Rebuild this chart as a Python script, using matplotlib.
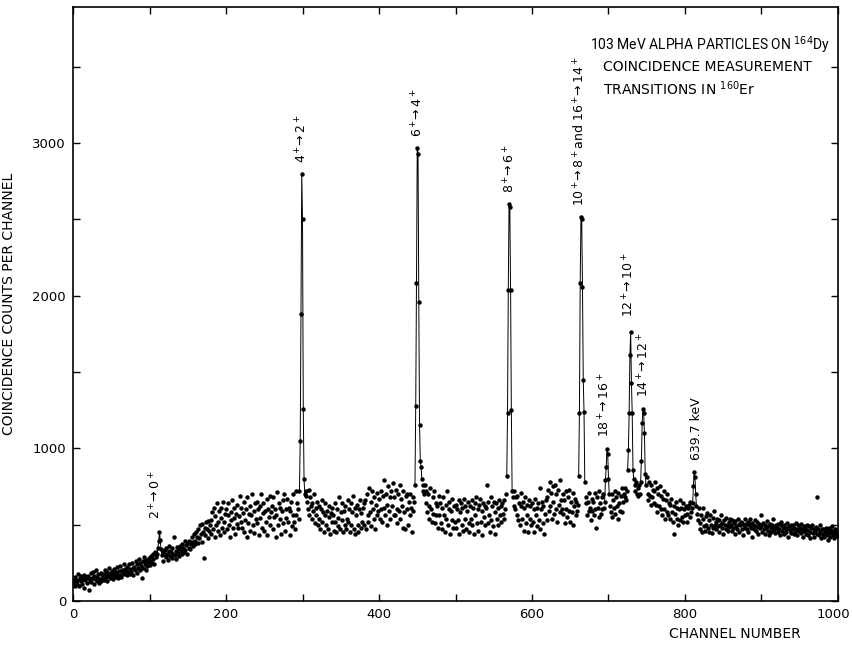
import numpy as np
import matplotlib.pyplot as plt
import matplotlib.transforms as mtransforms

# coincidence counts per channel, channels 0..999 (20 channels per row)
counts = [
    120, 145, 98, 160, 132, 110, 175, 140, 95, 150, 128, 165, 108, 142, 170, 88, 135, 155, 118, 148,
    162, 72, 138, 180, 125, 150, 190, 110, 165, 142, 200, 128, 158, 175, 115, 145, 185, 132, 168, 150,
    178, 140, 205, 160, 188, 132, 172, 215, 150, 182, 165, 198, 145, 176, 210, 158, 190, 168, 225, 152,
    195, 172, 230, 160, 205, 185, 245, 178, 212, 196, 168, 225, 190, 240, 175, 208, 188, 250, 170, 215,
    225, 200, 262, 185, 240, 215, 275, 205, 250, 230, 150, 262, 218, 290, 240, 205, 270, 232, 255, 280,
    262, 238, 295, 250, 310, 272, 240, 320, 285, 300, 305, 350, 390, 455, 400, 340, 300, 330, 265, 310,
    335, 290, 350, 305, 270, 325, 360, 295, 318, 280, 345, 305, 420, 300, 330, 275, 355, 312, 340, 295,
    360, 330, 305, 375, 345, 320, 390, 335, 365, 310, 380, 350, 395, 340, 370, 420, 385, 360, 440, 375,
    395, 450, 420, 380, 470, 410, 495, 440, 385, 505, 455, 280, 480, 430, 515, 470, 410, 525, 460, 495,
    530, 440, 580, 470, 610, 420, 555, 500, 640, 460, 520, 590, 430, 545, 610, 480, 650, 515, 450, 570,
    600, 470, 560, 640, 500, 420, 585, 530, 660, 475, 545, 610, 440, 570, 505, 630, 480, 555, 690, 520,
    610, 480, 575, 455, 650, 530, 600, 420, 680, 510, 570, 625, 460, 560, 700, 495, 590, 445, 640, 535,
    650, 510, 600, 430, 620, 545, 700, 480, 575, 640, 460, 590, 520, 670, 430, 605, 550, 690, 500, 580,
    620, 470, 680, 550, 600, 420, 560, 715, 500, 640, 540, 610, 440, 590, 660, 510, 700, 460, 600, 545,
    670, 520, 610, 430, 590, 650, 490, 560, 700, 520, 470, 720, 560, 640, 600, 540, 720, 1050, 1880, 2800,
    2500, 1260, 800, 700, 690, 720, 650, 600, 730, 560, 680, 620, 540, 640, 590, 700, 510, 610, 560, 650,
    500, 620, 540, 470, 600, 660, 520, 580, 450, 560, 640, 500, 590, 470, 550, 620, 440, 575, 520, 610,
    560, 460, 640, 520, 450, 600, 545, 490, 680, 470, 580, 530, 640, 455, 590, 500, 620, 470, 540, 660,
    520, 600, 450, 640, 500, 585, 690, 470, 610, 440, 560, 630, 500, 455, 600, 660, 480, 575, 520, 610,
    640, 500, 660, 470, 700, 560, 520, 740, 580, 650, 490, 720, 600, 540, 680, 470, 630, 560, 710, 590,
    670, 540, 720, 600, 520, 690, 610, 790, 560, 700, 630, 500, 750, 590, 680, 540, 720, 620, 770, 560,
    680, 560, 730, 600, 510, 700, 590, 760, 540, 670, 620, 480, 720, 580, 470, 690, 600, 700, 500, 650,
    560, 700, 610, 450, 680, 590, 650, 760, 1280, 2080, 2970, 2930, 1960, 1150, 920, 880, 800, 760, 720, 700,
    760, 640, 720, 580, 700, 620, 540, 740, 600, 520, 680, 570, 720, 510, 640, 560, 620, 480, 690, 560,
    640, 510, 610, 470, 680, 560, 450, 630, 540, 720, 500, 600, 650, 440, 590, 530, 670, 480, 620, 520,
    630, 480, 600, 530, 660, 440, 580, 640, 500, 610, 460, 670, 540, 620, 470, 590, 650, 510, 450, 620,
    540, 660, 500, 610, 440, 640, 560, 680, 510, 600, 460, 630, 670, 520, 590, 430, 640, 550, 500, 620,
    610, 760, 510, 650, 560, 450, 680, 530, 620, 490, 650, 580, 440, 640, 540, 610, 500, 660, 560, 620,
    520, 640, 570, 660, 540, 600, 700, 820, 1230, 2040, 2600, 2580, 2040, 1250, 720, 680, 620, 720, 600, 680,
    560, 690, 530, 640, 500, 620, 710, 540, 650, 460, 610, 680, 510, 630, 560, 450, 660, 540, 620, 500,
    640, 520, 600, 450, 670, 560, 610, 490, 640, 530, 740, 470, 600, 650, 510, 620, 440, 570, 660, 530,
    680, 730, 590, 780, 620, 710, 540, 750, 650, 570, 760, 600, 700, 520, 730, 630, 580, 790, 660, 600,
    700, 570, 660, 510, 720, 600, 550, 680, 590, 730, 520, 650, 580, 710, 500, 620, 670, 560, 650, 590,
    630, 820, 1230, 2080, 2515, 2500, 2060, 1450, 1240, 780, 640, 680, 560, 650, 590, 710, 610, 530, 670, 590,
    650, 560, 710, 600, 480, 680, 610, 550, 720, 640, 570, 680, 600, 700, 610, 650, 790, 880, 995, 960,
    800, 700, 620, 580, 700, 550, 660, 610, 720, 570, 680, 620, 540, 710, 640, 590, 690, 580, 740, 650,
    700, 680, 740, 660, 720, 860, 990, 1230, 1610, 1760, 1430, 1230, 860, 800, 760, 720, 780, 700, 740, 690,
    760, 700, 780, 920, 1165, 1257, 1230, 1100, 830, 760, 810, 700, 660, 780, 690, 630, 760, 680, 730, 640,
    720, 780, 630, 740, 580, 700, 620, 750, 600, 690, 560, 670, 720, 600, 540, 660, 580, 700, 560, 640,
    630, 540, 670, 580, 520, 620, 440, 570, 650, 540, 610, 500, 600, 660, 530, 610, 550, 640, 520, 600,
    560, 620, 570, 520, 610, 630, 550, 650, 580, 610, 640, 750, 845, 810, 700, 620, 570, 530, 610, 510,
    470, 560, 450, 540, 610, 490, 460, 555, 500, 575, 480, 530, 455, 565, 500, 445, 545, 480, 590, 495,
    520, 470, 540, 490, 455, 530, 500, 560, 480, 510, 440, 530, 495, 470, 545, 500, 460, 520, 485, 540,
    500, 460, 530, 480, 510, 440, 525, 490, 470, 540, 505, 455, 495, 520, 470, 510, 430, 500, 535, 480,
    505, 470, 520, 455, 495, 540, 480, 510, 420, 500, 470, 530, 490, 460, 515, 485, 440, 505, 475, 560,
    490, 455, 510, 470, 440, 500, 480, 525, 460, 490, 430, 505, 475, 450, 495, 540, 465, 485, 445, 500,
    480, 450, 505, 470, 430, 495, 520, 460, 485, 440, 500, 470, 455, 510, 480, 420, 490, 465, 500, 445,
    470, 500, 440, 480, 455, 510, 470, 430, 495, 460, 480, 445, 505, 470, 420, 490, 460, 475, 440, 500,
    465, 430, 490, 455, 410, 475, 500, 445, 470, 420, 460, 485, 440, 680, 470, 430, 495, 450, 415, 470,
    440, 470, 420, 455, 480, 430, 460, 400, 475, 445, 420, 465, 490, 430, 455, 410, 470, 440, 460, 425,
]

# channel ranges of the peaks (joined by lines)
peak_ranges = [(110, 116), (296, 303), (447, 456), (567, 574), (661, 669),
               (695, 701), (725, 733), (742, 749), (810, 815)]

# peak labels: text, channel, count where label starts
peak_labels = [
    (r"2$^+\!\!\rightarrow$0$^+$", 109, 540),
    (r"4$^+\!\!\rightarrow$2$^+$", 299, 2870),
    (r"6$^+\!\!\rightarrow$4$^+$", 451, 3040),
    (r"8$^+\!\!\rightarrow$6$^+$", 571, 2670),
    (r"10$^+\!\!\rightarrow$8$^+$and 16$^+\!\!\rightarrow$14$^+$", 663, 2590),
    (r"18$^+\!\!\rightarrow$16$^+$", 695, 1075),
    (r"12$^+\!\!\rightarrow$10$^+$", 727, 1860),
    (r"14$^+\!\!\rightarrow$12$^+$", 746, 1335),
    ("639.7 keV", 815, 925),
]

plt.rcParams["font.family"] = ["DejaVu Sans"]
plt.rcParams["mathtext.fontset"] = "dejavusans"

channels = np.arange(len(counts))
counts = np.array(counts)

fig = plt.figure(figsize=(8.53, 6.49), dpi=100)
ax = fig.add_axes([0.0856, 0.074, 0.8968, 0.915])

ax.plot(channels, counts, "o", color="black", markersize=3.2, markeredgewidth=0)
for a, b in peak_ranges:
    ax.plot(channels[a:b + 1], counts[a:b + 1], color="black", linewidth=0.7)

for text, ch, y in peak_labels:
    ax.text(ch, y, text, rotation=90, ha="center", va="bottom", fontsize=9)

ax.text(676, 3641, r"103 MeV ALPHA PARTICLES ON $^{164}$Dy", fontsize=10,
        family=["Roboto", "DejaVu Sans"], va="center")
ax.text(693, 3497, "COINCIDENCE MEASUREMENT", fontsize=10, va="center")
ax.text(693, 3353, r"TRANSITIONS IN $^{160}$Er", fontsize=10, va="center")

ax.set_xlim(0, 1000)
ax.set_ylim(0, 3890)
ax.set_xticks([0, 200, 400, 600, 800, 1000])
ax.set_xticks(np.arange(100, 1000, 200), minor=True)
ax.set_yticks([0, 1000, 2000, 3000])
ax.set_yticks([500, 1500, 2500, 3500], minor=True)
ax.tick_params(which="both", direction="in", top=True, right=True,
               length=5, width=1.0, labelsize=9.5, pad=5)

# nudge the last x label so it stays inside the figure
last = ax.get_xticklabels()[-1]
last.set_transform(last.get_transform() +
                   mtransforms.ScaledTranslation(-5 / 100, 0, fig.dpi_scale_trans))

for s in ax.spines.values():
    s.set_linewidth(1.2)

ax.set_ylabel("COINCIDENCE COUNTS PER CHANNEL", fontsize=10)
ax.yaxis.set_label_coords(-0.075, 0.5)
ax.text(0.865, -0.055, "CHANNEL NUMBER", transform=ax.transAxes,
        ha="center", va="center", fontsize=10)

fig.savefig("out.png", dpi=100)
